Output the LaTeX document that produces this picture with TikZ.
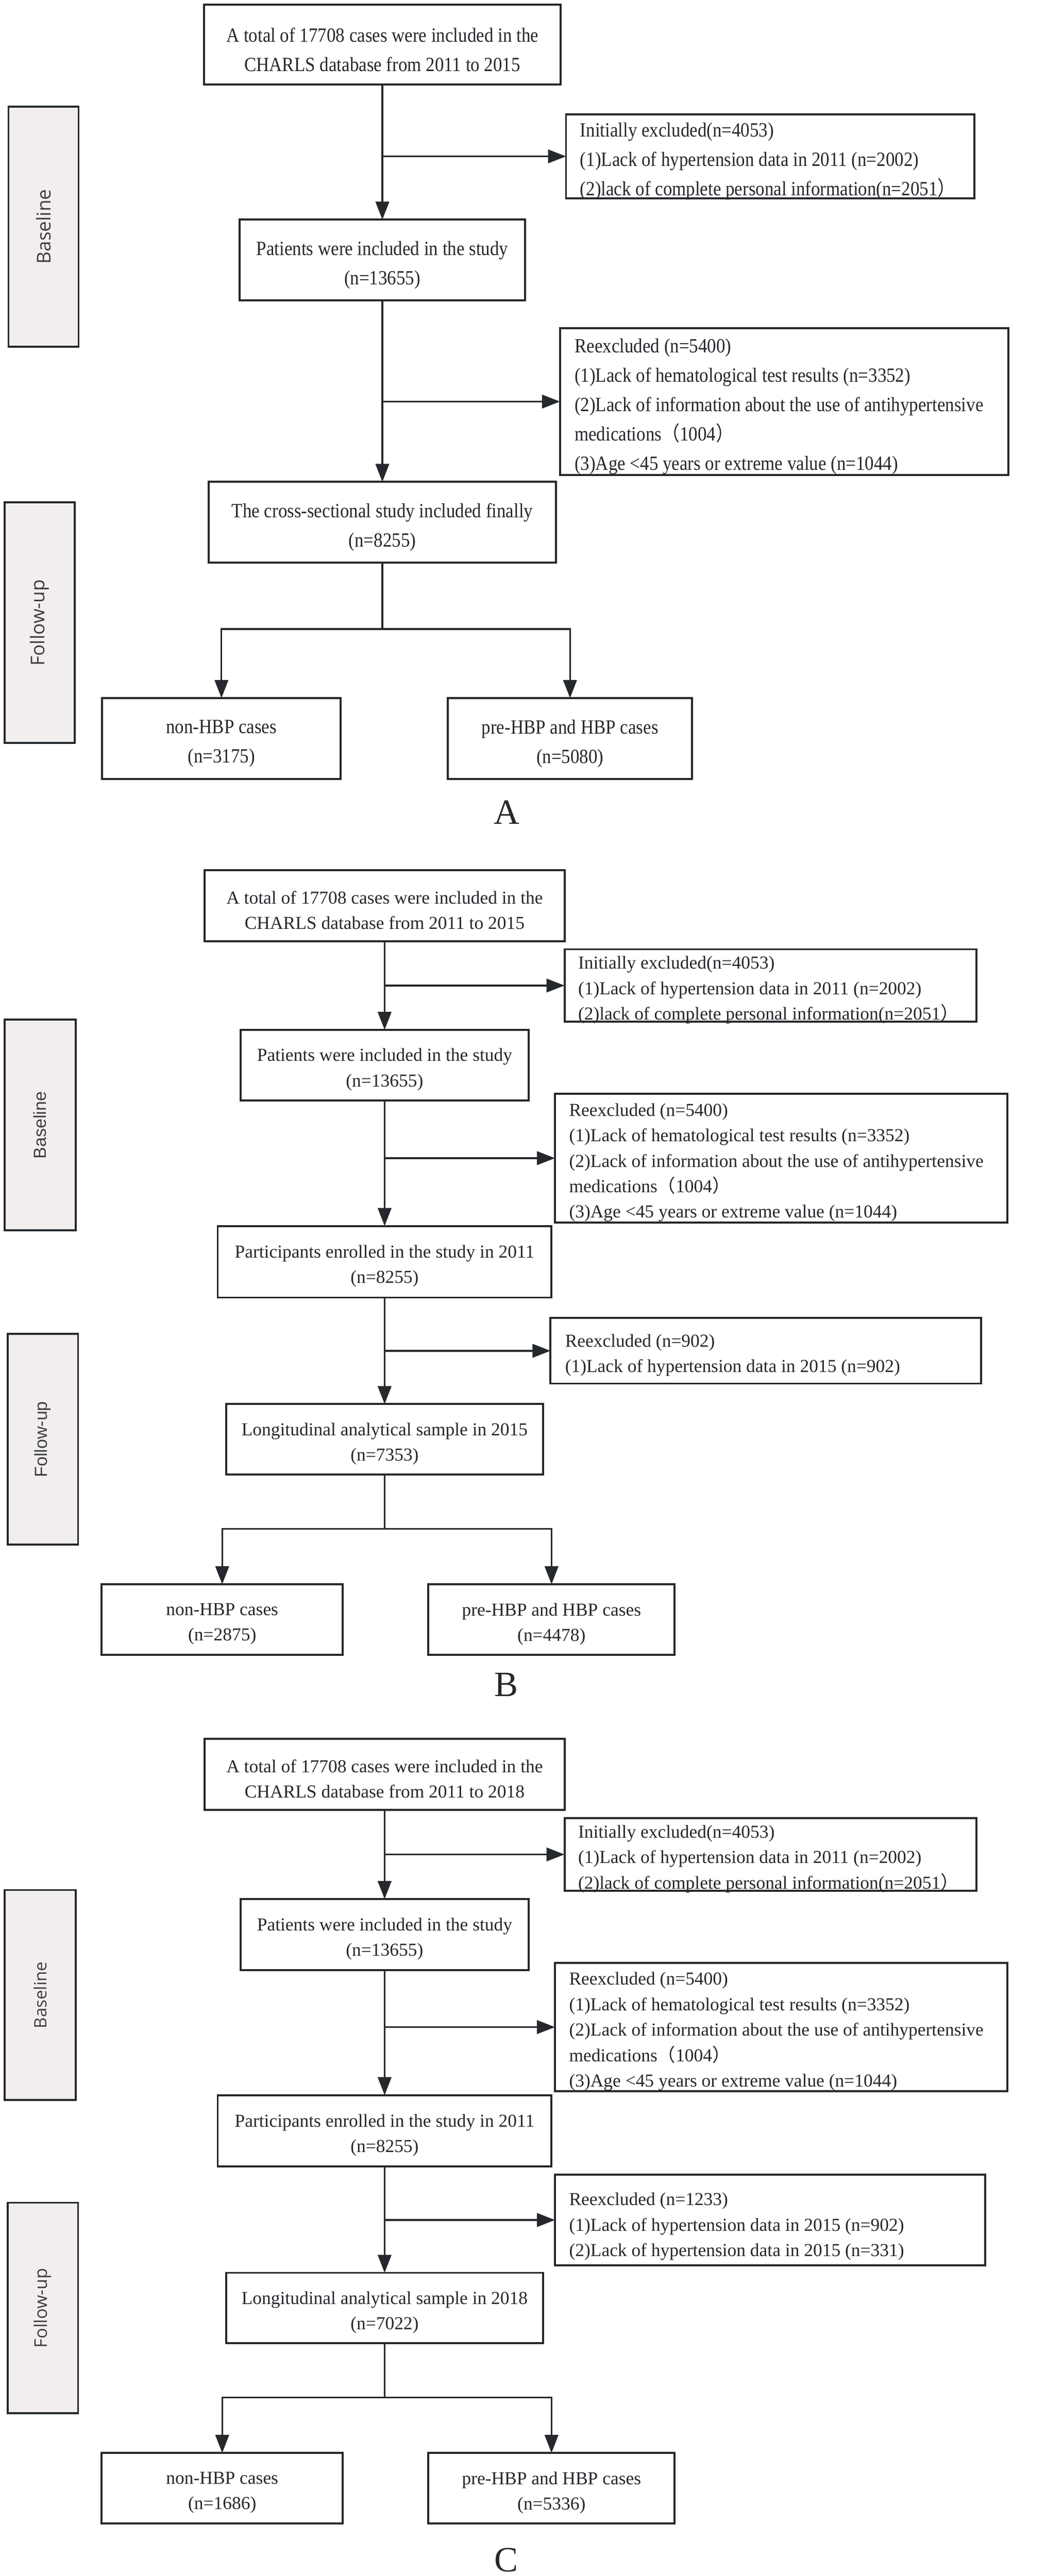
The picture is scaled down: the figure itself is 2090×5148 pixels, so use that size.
\documentclass[tikz,border=0pt]{standalone}
\usepackage{fontspec}
\setmainfont{Liberation Serif}
\newfontfamily\cjkfont{Noto Sans CJK SC}
\newfontfamily\osans{Open Sans}
\newfontfamily\lsans{Liberation Sans}
\usetikzlibrary{arrows.meta}
\definecolor{ink}{HTML}{25282C}
\definecolor{sidefill}{HTML}{F3EEEE}
\newcommand\fwp[1]{{\cjkfont #1}}
\newcommand\sA[1]{\scalebox{1}[1.12]{#1}}
\newcommand\fA{\fontsize{36}{58.5}\selectfont}
\newcommand\fB{\fontsize{36.5}{50.7}\selectfont}
\newcommand\fC{\fontsize{36.5}{51}\selectfont}
\tikzset{
  conn/.style={draw=ink, line width=3.5pt},
  arr/.style={conn, -{Triangle[length=36pt,width=27pt]}},
  box/.style={draw=ink, line width=4pt, fill=white, inner sep=0pt, outer sep=0pt},
  side/.style={draw=ink, line width=4pt, fill=sidefill, inner sep=0pt, outer sep=0pt, text=ink!90},
  ctxt/.style={inner sep=0pt, align=center, text=ink, yshift=-9pt},
  ltxt/.style={inner sep=0pt, align=left, text=ink, anchor=west, yshift=-9pt},
  panel/.style={inner sep=0pt, text=ink, font=\fontsize{71}{80}\selectfont}
}
\begin{document}
\begin{tikzpicture}[x=1pt,y=-1pt]
\useasboundingbox[fill=white] (0,0) rectangle (2090,5148);

% ================= Panel A =================
\node[box, minimum width=712pt, minimum height=160pt] (a1) at (764,89) {};
\node[ctxt, font=\fA, yshift=-1pt] (a1t) at (a1.center) {\sA{A total of 17708 cases were included in the}\\\sA{CHARLS database from 2011 to 2015}};
\node[side, minimum width=140pt, minimum height=480pt, font=\osans\fontsize{38}{40}\selectfont] (aB) at (87,453) {\rotatebox{90}{Baseline}};
\node[box, minimum width=816pt, minimum height=167pt] (ae1) at (1539,312.5) {};
\node[ltxt, font=\fA, yshift=-1pt] (ae1t) at ([xshift=28pt]ae1.west) {\sA{Initially excluded(n=4053)}\\\sA{(1)Lack of hypertension data in 2011 (n=2002)}\\\sA{(2)lack of complete personal information(n=2051\fwp{）}}};
\node[box, minimum width=570pt, minimum height=161pt] (a2) at (764,519.5) {};
\node[ctxt, font=\fA, yshift=-1pt] (a2t) at (a2.center) {\sA{Patients were included in the study}\\\sA{(n=13655)}};
\node[box, minimum width=896pt, minimum height=293pt] (ae2) at (1567,802.5) {};
\node[ltxt, font=\fA, yshift=-1pt] (ae2t) at ([xshift=29pt]ae2.west) {\sA{Reexcluded (n=5400)}\\\sA{(1)Lack of hematological test results (n=3352)}\\\sA{(2)Lack of information about the use of antihypertensive}\\\sA{medications\fwp{（}1004\fwp{）}}\\\sA{(3)Age <45 years or extreme value (n=1044)}};
\node[box, minimum width=694pt, minimum height=161pt] (a3) at (764,1043.5) {};
\node[ctxt, font=\fA, yshift=-1pt] (a3t) at (a3.center) {\sA{The cross-sectional study included finally}\\\sA{(n=8255)}};
\node[side, minimum width=140pt, minimum height=481pt, font=\osans\fontsize{38}{40}\selectfont] (aF) at (79,1244.5) {\rotatebox{90}{Follow-up}};
\node[box, minimum width=477pt, minimum height=162pt] (a4) at (442.5,1476) {};
\node[ctxt, font=\fA, yshift=-1pt] (a4t) at (a4.center) {\sA{non-HBP cases}\\\sA{(n=3175)}};
\node[box, minimum width=488pt, minimum height=162pt] (a5) at (1139,1476) {};
\node[ctxt, font=\fA, yshift=-1pt] (a5t) at (a5.center) {\sA{pre-HBP and HBP cases}\\\sA{(n=5080)}};
\node[panel] (aL) at (1012,1623) {A};
\coordinate (as) at (764,1257);
\draw[arr] (a1.south) -- (a2.north);
\draw[arr] (a1.south |- ae1.west) -- (ae1.west);
\draw[arr] (a2.south) -- (a3.north);
\draw[arr] (a2.south |- ae2.west) -- (ae2.west);
\draw[conn] (a3.south) -- (as);
\draw[arr] (as) -| (a4.north);
\draw[arr] (as) -| (a5.north);

% ================= Panel B =================
\node[box, minimum width=720pt, minimum height=142pt] (b1) at (768.5,1810) {};
\node[ctxt, font=\fB] (b1t) at (b1.center) {A total of 17708 cases were included in the\\CHARLS database from 2011 to 2015};
\node[box, minimum width=823pt, minimum height=145pt] (be1) at (1539.5,1969.5) {};
\node[ltxt, font=\fB] (be1t) at ([xshift=27pt]be1.west) {Initially excluded(n=4053)\\(1)Lack of hypertension data in 2011 (n=2002)\\(2)lack of complete personal information(n=2051\fwp{）}};
\node[box, minimum width=576pt, minimum height=141pt] (b2) at (768.5,2128.5) {};
\node[ctxt, font=\fB] (b2t) at (b2.center) {Patients were included in the study\\(n=13655)};
\node[side, minimum width=142pt, minimum height=421pt, font=\lsans\fontsize{35}{37}\selectfont] (bB) at (80,2248.5) {\rotatebox{90}{Baseline}};
\node[box, minimum width=904pt, minimum height=257pt] (be2) at (1561,2314.5) {};
\node[ltxt, font=\fB] (be2t) at ([xshift=28pt]be2.west) {Reexcluded (n=5400)\\(1)Lack of hematological test results (n=3352)\\(2)Lack of information about the use of antihypertensive\\medications\fwp{（}1004\fwp{）}\\(3)Age <45 years or extreme value (n=1044)};
\node[box, minimum width=667pt, minimum height=143pt] (b3) at (768.5,2521.5) {};
\node[ctxt, font=\fB] (b3t) at (b3.center) {Participants enrolled in the study in 2011\\(n=8255)};
\node[box, minimum width=860pt, minimum height=131pt] (be3) at (1530,2699.5) {};
\node[ltxt, font=\fB] (be3t) at ([xshift=29pt]be3.west) {Reexcluded (n=902)\\(1)Lack of hypertension data in 2015 (n=902)};
\node[side, minimum width=141pt, minimum height=421pt, font=\lsans\fontsize{35}{37}\selectfont] (bF) at (85.5,2876.5) {\rotatebox{90}{Follow-up}};
\node[box, minimum width=633pt, minimum height=141pt] (b4) at (768.5,2876.5) {};
\node[ctxt, font=\fB] (b4t) at (b4.center) {Longitudinal analytical sample in 2015\\(n=7353)};
\node[box, minimum width=482pt, minimum height=141pt] (b5) at (444,3236.5) {};
\node[ctxt, font=\fB] (b5t) at (b5.center) {non-HBP cases\\(n=2875)};
\node[box, minimum width=492pt, minimum height=141pt] (b6) at (1102,3236.5) {};
\node[ctxt, font=\fB] (b6t) at (b6.center) {pre-HBP and HBP cases\\(n=4478)};
\node[panel] (bL) at (1012,3367) {B};
\coordinate (bs) at (768.5,3055);
\draw[arr] (b1.south) -- (b2.north);
\draw[arr] (b1.south |- be1.west) -- (be1.west);
\draw[arr] (b2.south) -- (b3.north);
\draw[arr] (b2.south |- be2.west) -- (be2.west);
\draw[arr] (b3.south) -- (b4.north);
\draw[arr] (b3.south |- be3.west) -- (be3.west);
\draw[conn] (b4.south) -- (bs);
\draw[arr] (bs) -| (b5.north);
\draw[arr] (bs) -| (b6.north);

% ================= Panel C =================
\node[box, minimum width=720pt, minimum height=142pt] (c1) at (768.5,3546) {};
\node[ctxt, font=\fC] (c1t) at (c1.center) {A total of 17708 cases were included in the\\CHARLS database from 2011 to 2018};
\node[box, minimum width=823pt, minimum height=146pt] (ce1) at (1539.5,3706) {};
\node[ltxt, font=\fC] (ce1t) at ([xshift=27pt]ce1.west) {Initially excluded(n=4053)\\(1)Lack of hypertension data in 2011 (n=2002)\\(2)lack of complete personal information(n=2051\fwp{）}};
\node[box, minimum width=576pt, minimum height=142pt] (c2) at (768.5,3866) {};
\node[ctxt, font=\fC] (c2t) at (c2.center) {Patients were included in the study\\(n=13655)};
\node[side, minimum width=142pt, minimum height=420pt, font=\osans\fontsize{34}{36}\selectfont] (cB) at (80,3987) {\rotatebox{90}{Baseline}};
\node[box, minimum width=904pt, minimum height=256pt] (ce2) at (1561,4051) {};
\node[ltxt, font=\fC] (ce2t) at ([xshift=28pt]ce2.west) {Reexcluded (n=5400)\\(1)Lack of hematological test results (n=3352)\\(2)Lack of information about the use of antihypertensive\\medications\fwp{（}1004\fwp{）}\\(3)Age <45 years or extreme value (n=1044)};
\node[box, minimum width=667pt, minimum height=142pt] (c3) at (768.5,4258) {};
\node[ctxt, font=\fC] (c3t) at (c3.center) {Participants enrolled in the study in 2011\\(n=8255)};
\node[box, minimum width=860pt, minimum height=181pt] (ce3) at (1539,4436.5) {};
\node[ltxt, font=\fC, yshift=-4pt] (ce3t) at ([xshift=28pt]ce3.west) {Reexcluded (n=1233)\\(1)Lack of hypertension data in 2015 (n=902)\\(2)Lack of hypertension data in 2015 (n=331)};
\node[side, minimum width=141pt, minimum height=421pt, font=\osans\fontsize{35}{37}\selectfont] (cF) at (85.5,4612.5) {\rotatebox{90}{Follow-up}};
\node[box, minimum width=633pt, minimum height=141pt] (c4) at (768.5,4612.5) {};
\node[ctxt, font=\fC] (c4t) at (c4.center) {Longitudinal analytical sample in 2018\\(n=7022)};
\node[box, minimum width=482pt, minimum height=141pt] (c5) at (444,4972.5) {};
\node[ctxt, font=\fC] (c5t) at (c5.center) {non-HBP cases\\(n=1686)};
\node[box, minimum width=492pt, minimum height=141pt] (c6) at (1102,4972.5) {};
\node[ctxt, font=\fC] (c6t) at (c6.center) {pre-HBP and HBP cases\\(n=5336)};
\node[panel] (cL) at (1012,5116) {C};
\coordinate (cs) at (768.5,4791);
\draw[arr] (c1.south) -- (c2.north);
\draw[arr] (c1.south |- ce1.west) -- (ce1.west);
\draw[arr] (c2.south) -- (c3.north);
\draw[arr] (c2.south |- ce2.west) -- (ce2.west);
\draw[arr] (c3.south) -- (c4.north);
\draw[arr] (c3.south |- ce3.west) -- (ce3.west);
\draw[conn] (c4.south) -- (cs);
\draw[arr] (cs) -| (c5.north);
\draw[arr] (cs) -| (c6.north);
\end{tikzpicture}
\end{document}
